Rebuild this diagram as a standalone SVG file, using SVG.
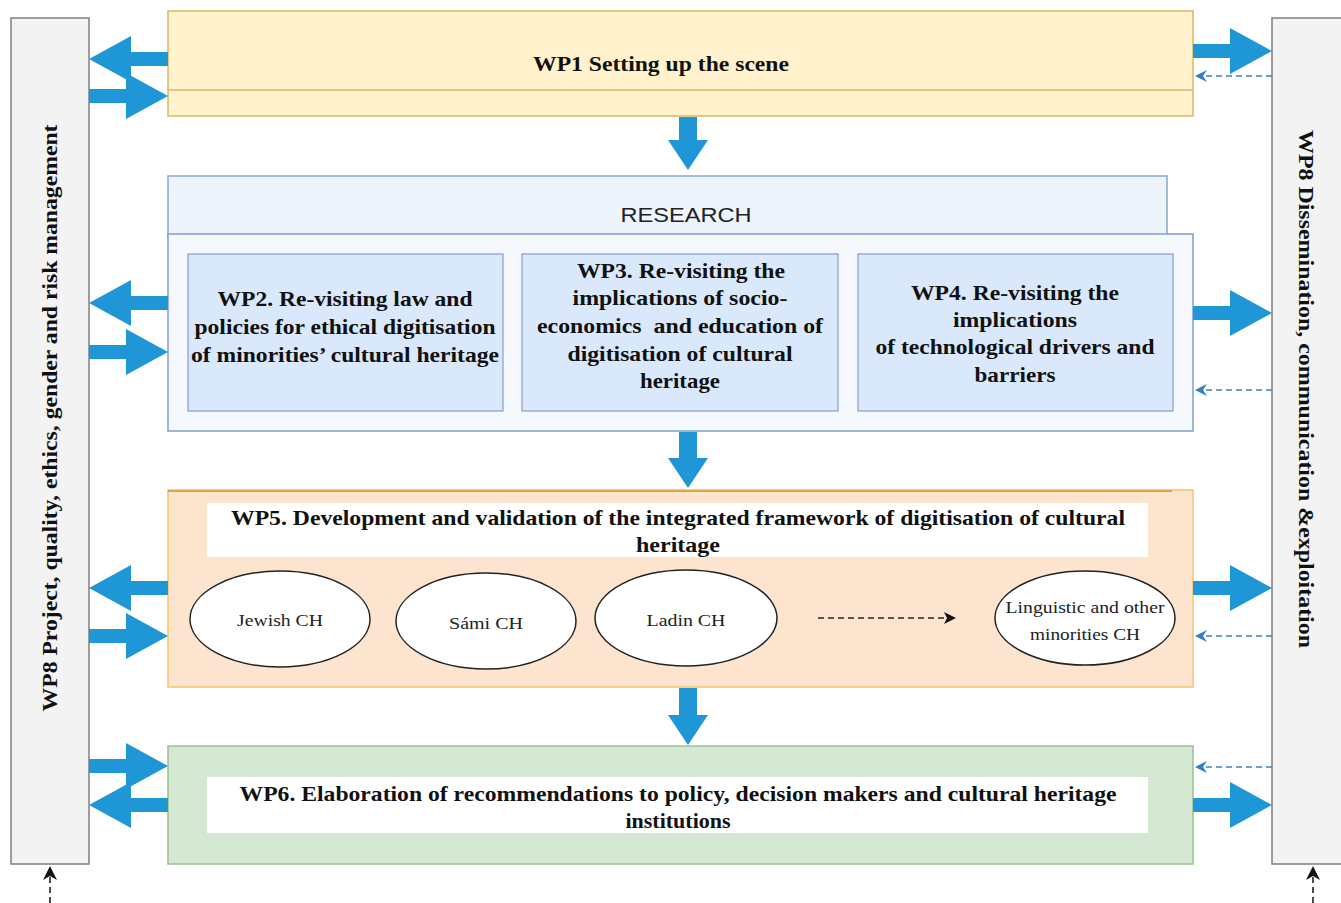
<svg xmlns="http://www.w3.org/2000/svg" width="1341" height="903" viewBox="0 0 1341 903">
<style>
.bar{fill:#f3f3f3;stroke:#7f7f7f;stroke-width:1.5}
.b{font-family:"Liberation Serif","Times New Roman",serif;font-weight:bold;font-size:21px;fill:#111;text-anchor:middle}
.e{font-family:"Liberation Serif","Times New Roman",serif;font-size:17px;fill:#222;text-anchor:middle}
.ell{fill:#fff;stroke:#222;stroke-width:1.5}
.blue{fill:#1f97d6}
.dash{stroke:#3b82c4;stroke-width:1.6;stroke-dasharray:6,4;fill:none}
.kd{stroke:#222;stroke-width:1.6;stroke-dasharray:6,4;fill:none}
.bh{fill:#2f7fc4}
.kh{fill:#111}
.wpb{fill:#dae8fc;stroke:#7f9fcb;stroke-width:1.2}
</style>
<defs>
<path id="ha" d="M0,-7 H37 V-23 L79,0 L37,23 V7 H0 Z"/>
<path id="bhl" d="M0,0 L12,-6 L8,0 L12,6 Z"/>
<path id="khu" d="M0,0 L7,14 L0,10 L-7,14 Z"/>
</defs>

<g id="wp8-left">
<rect class="bar" x="11" y="18" width="78" height="846"/>
<text class="b" transform="translate(57,418) rotate(-90)" textLength="587" lengthAdjust="spacingAndGlyphs">WP8 Project, quality, ethics, gender and risk management</text>
</g>
<g id="wp8-right">
<rect class="bar" x="1272" y="18" width="80" height="846"/>
<text class="b" transform="translate(1299,389) rotate(90)" textLength="518" lengthAdjust="spacingAndGlyphs">WP8 Dissemination, communication &amp;exploitation</text>
</g>

<g id="wp1">
<rect x="168" y="11" width="1025" height="105" fill="#fff2cc" stroke="#d9b866" stroke-width="1.5"/>
<line x1="168" y1="90" x2="1193" y2="90" stroke="#d9b866" stroke-width="1.5"/>
<text class="b" x="661" y="71" textLength="256" lengthAdjust="spacingAndGlyphs">WP1 Setting up the scene</text>
</g>

<g id="research">
<rect x="168" y="176" width="999" height="62" fill="#eef4fc" stroke="#8aa7cf" stroke-width="1.5"/>
<text x="686" y="222" font-family="'Liberation Sans',Arial,sans-serif" font-size="21" fill="#222" text-anchor="middle" textLength="131" lengthAdjust="spacingAndGlyphs">RESEARCH</text>
<rect x="168" y="234" width="1025" height="197" fill="#f5f9fe" stroke="#7f9fcb" stroke-width="1.5"/>
</g>
<g id="wp2">
<rect class="wpb" x="188" y="254" width="315" height="157"/>
<text class="b" x="345" y="306" textLength="255" lengthAdjust="spacingAndGlyphs">WP2. Re-visiting law and</text>
<text class="b" x="345" y="334" textLength="301" lengthAdjust="spacingAndGlyphs">policies for ethical digitisation</text>
<text class="b" x="345" y="362" textLength="308" lengthAdjust="spacingAndGlyphs">of minorities’ cultural heritage</text>
</g>
<g id="wp3">
<rect class="wpb" x="522" y="254" width="316" height="157"/>
<text class="b" x="681" y="278" textLength="208" lengthAdjust="spacingAndGlyphs">WP3. Re-visiting the</text>
<text class="b" x="680" y="305" textLength="215" lengthAdjust="spacingAndGlyphs">implications of socio-</text>
<text class="b" x="680" y="333" xml:space="preserve" textLength="286" lengthAdjust="spacingAndGlyphs">economics  and education of</text>
<text class="b" x="680" y="361" textLength="225" lengthAdjust="spacingAndGlyphs">digitisation of cultural</text>
<text class="b" x="680" y="388" textLength="80" lengthAdjust="spacingAndGlyphs">heritage</text>
</g>
<g id="wp4">
<rect class="wpb" x="858" y="254" width="315" height="157"/>
<text class="b" x="1015" y="300" textLength="208" lengthAdjust="spacingAndGlyphs">WP4. Re-visiting the</text>
<text class="b" x="1015" y="327" textLength="124" lengthAdjust="spacingAndGlyphs">implications</text>
<text class="b" x="1015" y="354" textLength="279" lengthAdjust="spacingAndGlyphs">of technological drivers and</text>
<text class="b" x="1015" y="382" textLength="81" lengthAdjust="spacingAndGlyphs">barriers</text>
</g>

<g id="wp5">
<rect x="168" y="490" width="1025" height="197" fill="#fde4cf" stroke="#f2c46a" stroke-width="1.5"/>
<line x1="168" y1="491" x2="1172" y2="491" stroke="#d9a441" stroke-width="2"/>
<rect x="207" y="503" width="941" height="54" fill="#fff"/>
<text class="b" x="678" y="525" textLength="894" lengthAdjust="spacingAndGlyphs">WP5. Development and validation of the integrated framework of digitisation of cultural</text>
<text class="b" x="678" y="552" textLength="84" lengthAdjust="spacingAndGlyphs">heritage</text>
</g>
<g id="jewish"><ellipse class="ell" cx="280" cy="619" rx="90" ry="48"/><text class="e" x="280" y="626" textLength="86" lengthAdjust="spacingAndGlyphs">Jewish CH</text></g>
<g id="sami"><ellipse class="ell" cx="486" cy="621" rx="90" ry="48"/><text class="e" x="486" y="629" textLength="74" lengthAdjust="spacingAndGlyphs">Sámi CH</text></g>
<g id="ladin"><ellipse class="ell" cx="686" cy="618" rx="91" ry="48"/><text class="e" x="686" y="626" textLength="79" lengthAdjust="spacingAndGlyphs">Ladin CH</text></g>
<g id="linguistic"><ellipse class="ell" cx="1085" cy="618" rx="90" ry="47"/><text class="e" x="1085" y="613" textLength="159" lengthAdjust="spacingAndGlyphs">Linguistic and other</text><text class="e" x="1085" y="640" textLength="110" lengthAdjust="spacingAndGlyphs">minorities CH</text></g>

<g id="wp6">
<rect x="168" y="746" width="1025" height="118" fill="#d5e8d4" stroke="#98c28c" stroke-width="1.5"/>
<rect x="207" y="777" width="941" height="56" fill="#fff"/>
<text class="b" x="678" y="801" textLength="877" lengthAdjust="spacingAndGlyphs">WP6. Elaboration of recommendations to policy, decision makers and cultural heritage</text>
<text class="b" x="678" y="828" textLength="105" lengthAdjust="spacingAndGlyphs">institutions</text>
</g>

<g id="connectors">
<path class="blue" d="M679,117 H697 V140 H708 L688,170 L668,140 H679 Z"/>
<path class="blue" d="M679,432 H697 V458 H708 L688,488 L668,458 H679 Z"/>
<path class="blue" d="M679,688 H697 V715 H708 L688,745 L668,715 H679 Z"/>
<use href="#ha" class="blue" transform="translate(168,59) scale(-1,1)"/>
<use href="#ha" class="blue" transform="translate(89,96)"/>
<use href="#ha" class="blue" transform="translate(168,303) scale(-1,1)"/>
<use href="#ha" class="blue" transform="translate(89,352)"/>
<use href="#ha" class="blue" transform="translate(168,588) scale(-1,1)"/>
<use href="#ha" class="blue" transform="translate(89,636)"/>
<use href="#ha" class="blue" transform="translate(89,766)"/>
<use href="#ha" class="blue" transform="translate(168,805) scale(-1,1)"/>
<use href="#ha" class="blue" transform="translate(1193,51)"/>
<use href="#ha" class="blue" transform="translate(1193,313)"/>
<use href="#ha" class="blue" transform="translate(1193,588)"/>
<use href="#ha" class="blue" transform="translate(1193,805)"/>
<path class="dash" d="M1272,76 H1204"/><use href="#bhl" class="bh" transform="translate(1195,76)"/>
<path class="dash" d="M1272,390 H1204"/><use href="#bhl" class="bh" transform="translate(1195,390)"/>
<path class="dash" d="M1272,636 H1204"/><use href="#bhl" class="bh" transform="translate(1195,636)"/>
<path class="dash" d="M1272,767 H1204"/><use href="#bhl" class="bh" transform="translate(1195,767)"/>
<path class="kd" d="M818,618 H946"/><path class="kh" d="M956,618 L944,612 L947,618 L944,624 Z"/>
<path class="kd" d="M50,903 V876"/><use href="#khu" class="kh" transform="translate(50,866)"/>
<path class="kd" d="M1313,903 V876"/><use href="#khu" class="kh" transform="translate(1313,866)"/>
</g>
</svg>
